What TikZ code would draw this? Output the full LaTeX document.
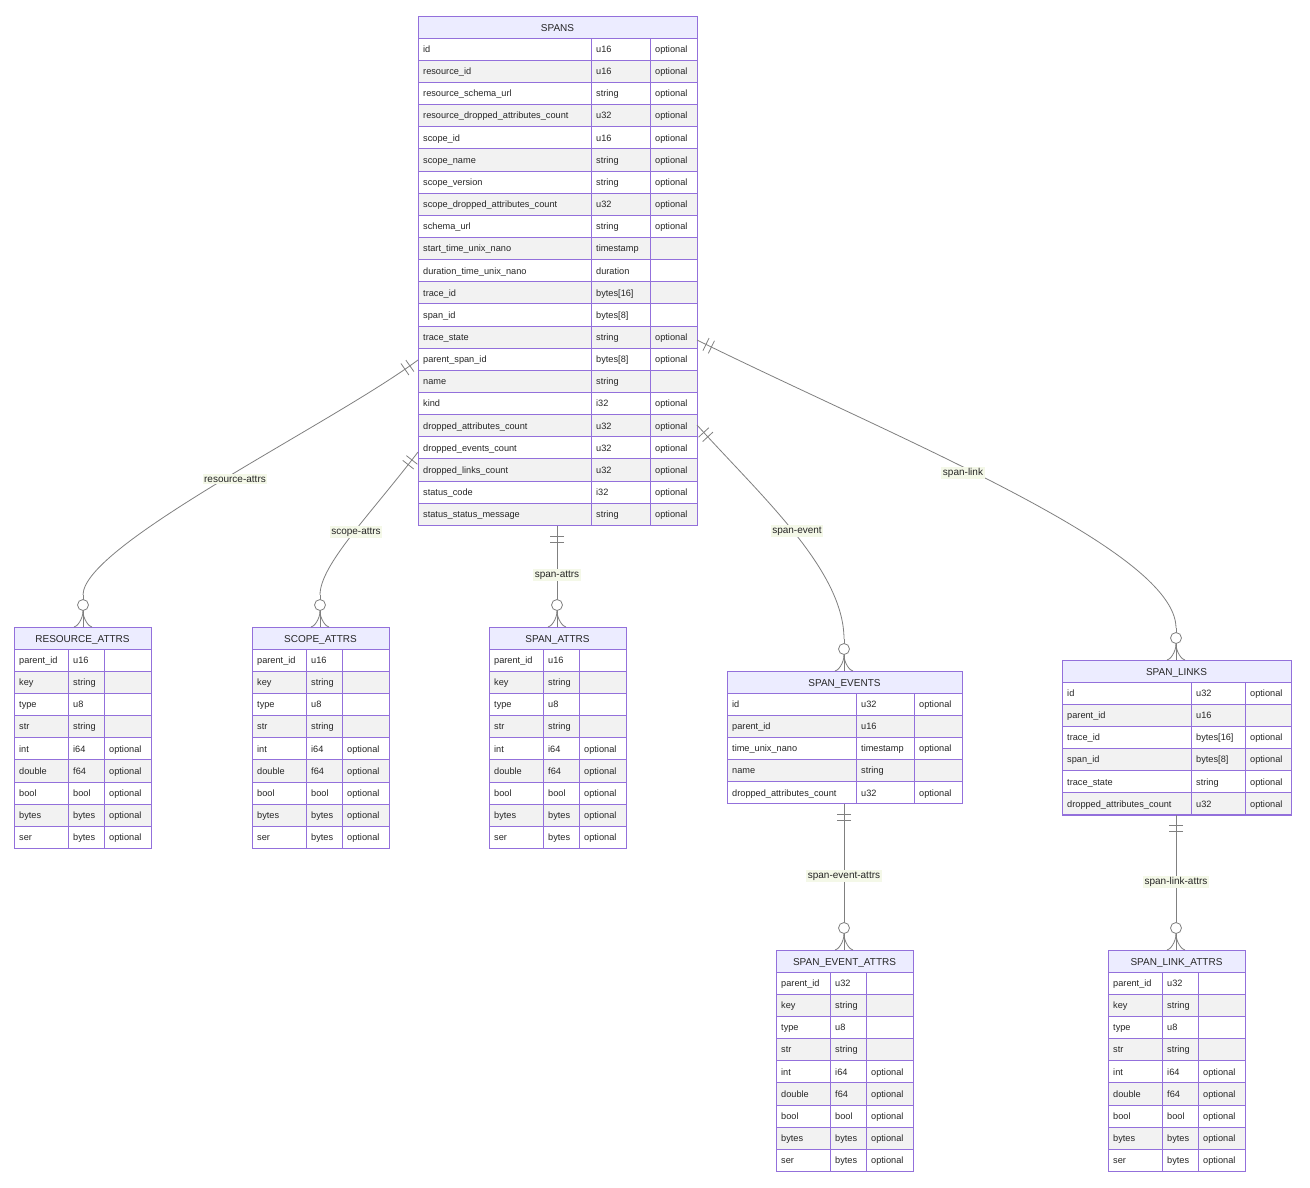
\documentclass[tikz,border=0pt]{standalone}
\usepackage{fontspec}
\setmainfont{Liberation Sans}
\usetikzlibrary{decorations.markings}
\definecolor{bord}{HTML}{9370DB}
\definecolor{hdr}{HTML}{ECECFF}
\definecolor{alt}{HTML}{F2F2F2}
\definecolor{ln}{HTML}{808080}
\definecolor{lbl}{HTML}{F4F8E8}
\tikzset{
  cell/.style={draw=bord,line width=0.8pt},
  txt/.style={anchor=base west,inner sep=0pt,font=\fontsize{9.2}{11}\selectfont,text=black!85},
  ttl/.style={anchor=base,inner sep=0pt,font=\fontsize{10}{12}\selectfont,text=black!85},
  rel/.style={draw=ln,line width=0.8pt,postaction={decorate},decoration={markings,
    mark=at position 10pt with {\draw[ln,line width=0.8pt] (0,-7)--(0,7);},
    mark=at position 16pt with {\draw[ln,line width=0.8pt] (0,-7)--(0,7);}}},
  many/.style={draw=ln,line width=0.8pt,postaction={decorate},decoration={markings,
    mark=at position -22pt with {\draw[ln,line width=0.8pt,fill=white] (0,0) circle (5.5);},
    mark=at position 0.999 with {\draw[ln,line width=0.8pt] (-16,0) .. controls (-8,0) and (0,-6) .. (0,-9); \draw[ln,line width=0.8pt] (-16,0) .. controls (-8,0) and (0,6) .. (0,9);}}},
  elab/.style={fill=lbl,inner sep=1.5pt,font=\fontsize{10}{12}\selectfont,text=black!85}
}
\newcommand\ertabC[8]{%
  \fill[hdr] (#2,#3) rectangle (#6,#3+22);
  \draw[cell] (#2,#3) rectangle (#6,#3+22);
  \node[ttl] (#1) at ({(#2+#6)/2},#3+15) {#7};
  \foreach \a/\b/\c [count=\i from 0] in {#8} {
    \pgfmathsetmacro\yy{#3+22+\i*22.15}
    \ifodd\i \fill[alt] (#2,\yy) rectangle (#6,\yy+22.15); \fi
    \draw[cell] (#2,\yy) rectangle (#4,\yy+22.15);
    \draw[cell] (#4,\yy) rectangle (#5,\yy+22.15);
    \draw[cell] (#5,\yy) rectangle (#6,\yy+22.15);
    \node[txt] at (#2+5,\yy+14.5) {\a};
    \node[txt] at (#4+5,\yy+14.5) {\b};
    \node[txt] at (#5+5,\yy+14.5) {\c};
    \xdef\lasty{\yy}
  }
  \draw[cell,line width=1pt] (#2,#3) rectangle (#6,\lasty+22.15);
}
\newcommand\attrtab[8]{\edef\tmp{\noexpand\ertabC{#1}{#2}{#3}{#4}{#5}{#6}{\unexpanded{#7}}{#8}}\tmp}
\begin{document}
\begin{tikzpicture}[x=1pt,y=-1pt]
\useasboundingbox (0,0) rectangle (1310,1187);
\fill[white] (0,0) rectangle (1310,1187);
\ertabC{spans}{418}{16}{591}{650}{697}{SPANS}{id/u16/optional,resource\_id/u16/optional,resource\_schema\_url/string/optional,resource\_dropped\_attributes\_count/u32/optional,scope\_id/u16/optional,scope\_name/string/optional,scope\_version/string/optional,scope\_dropped\_attributes\_count/u32/optional,schema\_url/string/optional,start\_time\_unix\_nano/timestamp/{},duration\_time\_unix\_nano/duration/{},trace\_id/bytes[16]/{},span\_id/bytes[8]/{},trace\_state/string/optional,parent\_span\_id/bytes[8]/optional,name/string/{},kind/i32/optional,dropped\_attributes\_count/u32/optional,dropped\_events\_count/u32/optional,dropped\_links\_count/u32/optional,status\_code/i32/optional,status\_status\_message/string/optional}
\def\attrrows{parent\noexpand\_id/u16/{},key/string/{},type/u8/{},str/string/{},int/i64/optional,double/f64/optional,bool/bool/optional,bytes/bytes/optional,ser/bytes/optional}
\def\attrrowsb{parent\noexpand\_id/u32/{},key/string/{},type/u8/{},str/string/{},int/i64/optional,double/f64/optional,bool/bool/optional,bytes/bytes/optional,ser/bytes/optional}
\attrtab{r}{14}{627}{68}{104}{151}{RESOURCE\_ATTRS}{\attrrows}
\attrtab{s}{252}{627}{306}{342}{389}{SCOPE\_ATTRS}{\attrrows}
\attrtab{a}{489}{627}{543}{579}{626}{SPAN\_ATTRS}{\attrrows}
\ertabC{ev}{727}{671}{856}{914}{962}{SPAN\_EVENTS}{id/u32/optional,parent\_id/u16/{},time\_unix\_nano/timestamp/optional,name/string/{},dropped\_attributes\_count/u32/optional}
\ertabC{lk}{1062}{660}{1191}{1245}{1291}{SPAN\_LINKS}{id/u32/optional,parent\_id/u16/{},trace\_id/bytes[16]/optional,span\_id/bytes[8]/optional,trace\_state/string/optional,dropped\_attributes\_count/u32/optional}
\attrtab{ea}{776}{950}{830}{866}{913}{SPAN\_EVENT\_ATTRS}{\attrrowsb}
\attrtab{la}{1108}{950}{1162}{1198}{1245}{SPAN\_LINK\_ATTRS}{\attrrowsb}
\coordinate (p1) at (418,360); \coordinate (c1) at (83,627); \coordinate (m1) at (83,595);
\coordinate (p2) at (418,452); \coordinate (c2) at (320,627); \coordinate (m2) at (320,595);
\coordinate (p3) at (557,526); \coordinate (c3) at (557,627); \coordinate (m3) at (557,595);
\coordinate (p4) at (697,425); \coordinate (c4) at (844,671); \coordinate (m4) at (844,639);
\coordinate (p5) at (697,340); \coordinate (c5) at (1176,660); \coordinate (m5) at (1176,628);
\coordinate (p6) at (844,804); \coordinate (c6) at (844,950); \coordinate (m6) at (844,918);
\coordinate (p7) at (1176,815); \coordinate (c7) at (1176,950); \coordinate (m7) at (1176,918);
\path[rel] (p1) .. controls (330,425) and (83,545) .. (m1);
\path[rel] (p2) .. controls (370,515) and (320,565) .. (m2);
\path[rel] (p3) -- (m3);
\path[rel] (p4) .. controls (760,495) and (844,570) .. (m4);
\path[rel] (p5) .. controls (900,440) and (1176,550) .. (m5);
\path[rel] (p6) -- (m6);
\path[rel] (p7) -- (m7);
\foreach \k in {1,...,7} \path[many] (m\k) -- (c\k);
\node[elab] (l1) at (235,479) {resource-attrs};
\node[elab] (l2) at (356,532) {scope-attrs};
\node[elab] (l3) at (557,575) {span-attrs};
\node[elab] (l4) at (797,531) {span-event};
\node[elab] (l5) at (963,473) {span-link};
\node[elab] (l6) at (844,876) {span-event-attrs};
\node[elab] (l7) at (1176,882) {span-link-attrs};
\end{tikzpicture}
\end{document}
